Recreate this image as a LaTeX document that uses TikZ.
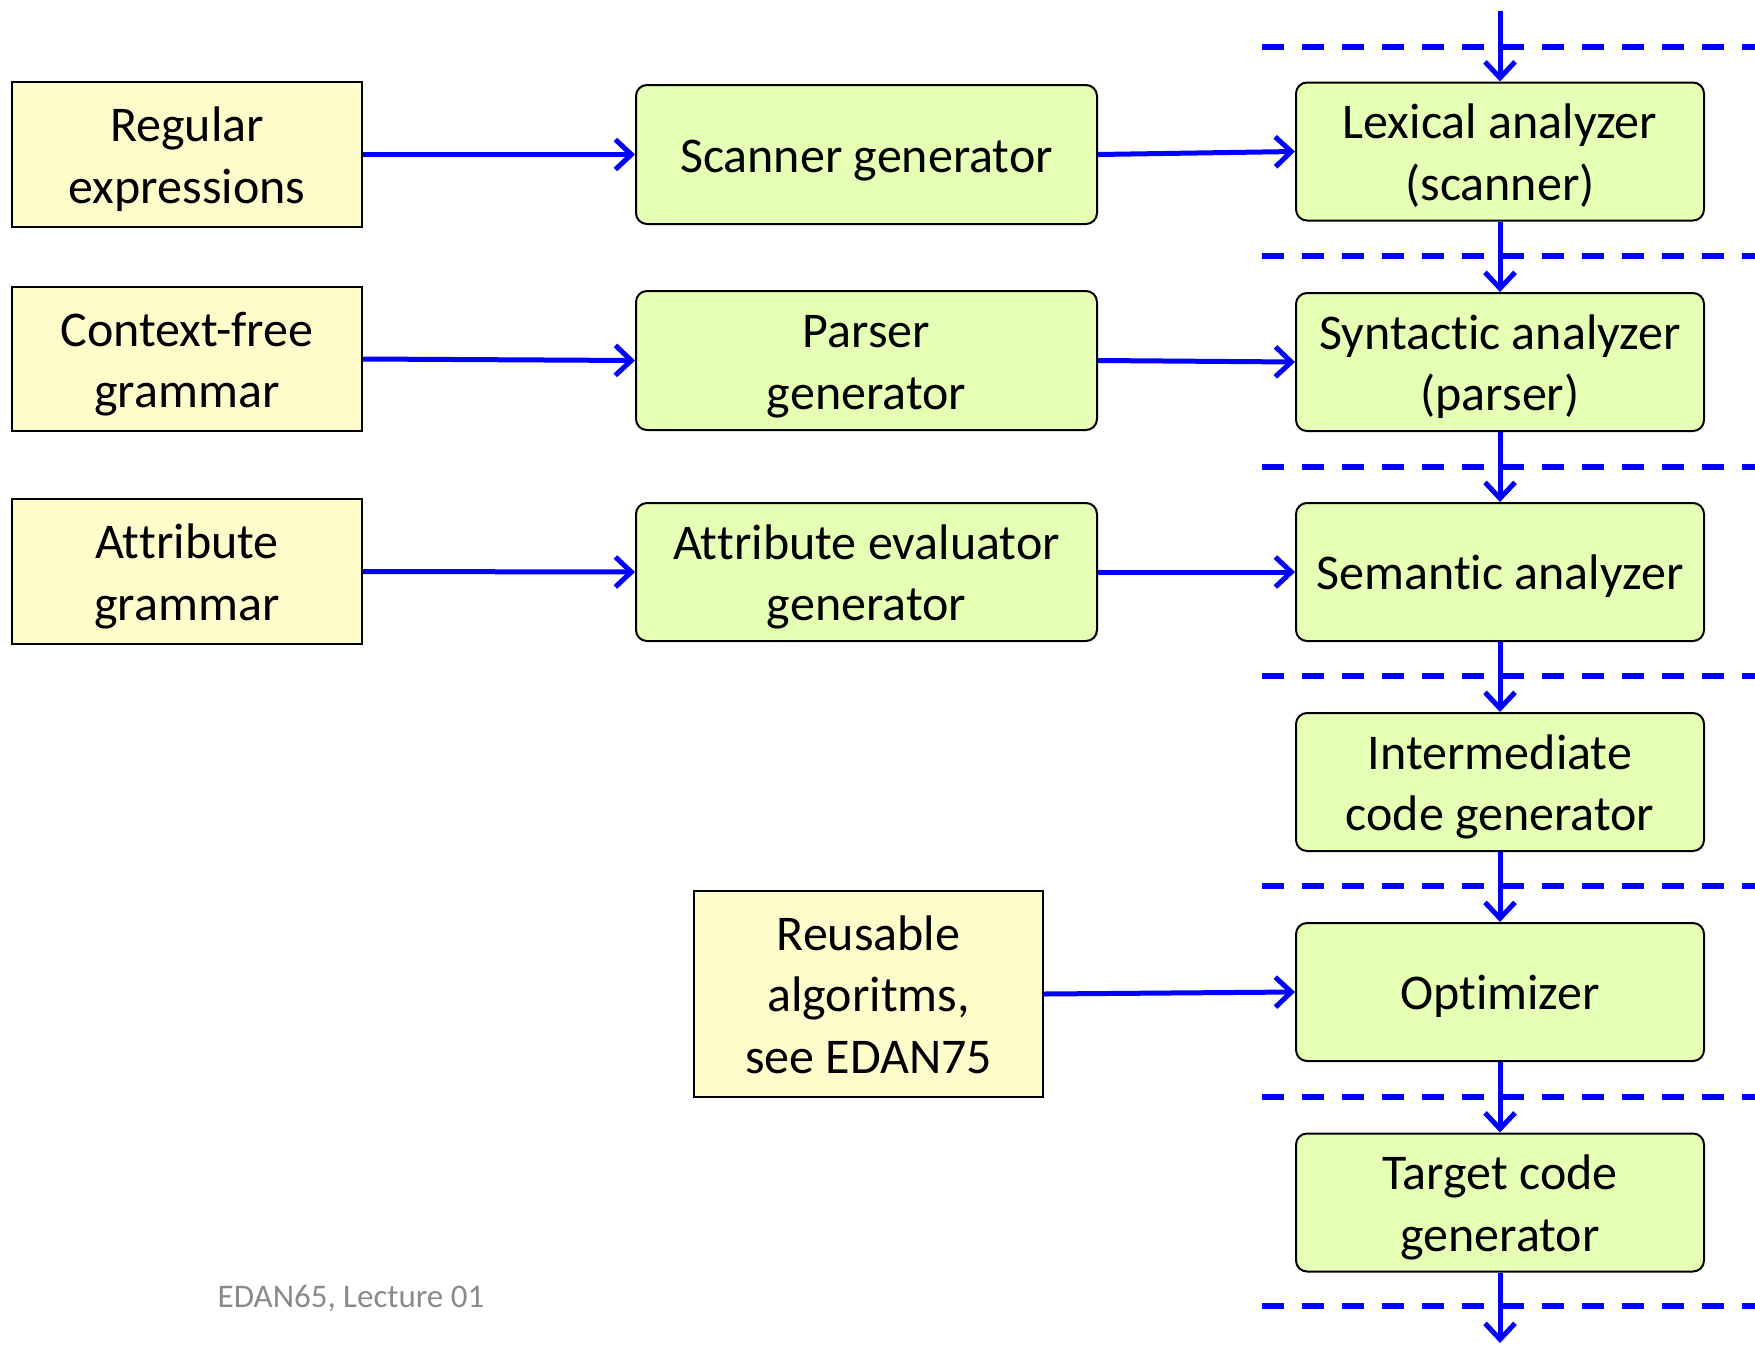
\documentclass[tikz,border=0pt]{standalone}
\usepackage{fontspec}
\setmainfont{Carlito}[Ligatures=NoCommon]
\usetikzlibrary{arrows.meta}
\definecolor{yfill}{HTML}{FFFCCB}
\definecolor{gfill}{HTML}{E5FFB4}
\definecolor{fgray}{HTML}{8A8A8A}
\newcommand\nolti{t\kern0pt i}
\newcommand\nolatt{At\kern0pt tribute}
\newcommand\boxtext[1]{\raisebox{0pt}[\dimexpr\height+11pt\relax][\depth]{\begin{tabular}{@{}c@{}}#1\end{tabular}}}
\tikzset{
  base/.style={draw=black, inner sep=0pt,
    font=\fontsize{50}{61.5}\selectfont, text=black},
  ybox/.style={base, fill=yfill, line width=2pt},
  gbox/.style={base, fill=gfill, line width=2pt, rounded corners=11pt},
  arr/.style={draw=blue, line width=5pt, -{Straight Barb[length=16pt,width=30pt,line width=5pt]}},
  sep/.style={draw=blue, line width=6pt, dash pattern=on 22pt off 18pt}
}
\begin{document}
\begin{tikzpicture}[x=1pt,y=-1pt]
\useasboundingbox (0,0) rectangle (1755,1346);
% dashed separators
\foreach \yy in {47,256,467,676,886,1097,1306}
  \draw[sep] (1262,\yy) -- (1755,\yy);
% left inputs
\node[ybox, minimum width=350pt, minimum height=145pt] (re) at (187,154.5) {\boxtext{Regular\\expressions}};
\node[ybox, minimum width=350pt, minimum height=144pt] (cfg) at (187,359) {\boxtext{Context-free\\grammar}};
\node[ybox, minimum width=350pt, minimum height=145pt] (ag) at (187,571.5) {\boxtext{\nolatt\\grammar}};
\node[ybox, minimum width=349pt, minimum height=206pt] (ra) at (868.5,994) {\boxtext{Reusable\\algoritms,\\see EDAN75}};
% generators
\node[gbox, minimum width=461pt, minimum height=139pt] (sg) at (866.5,154.5) {\boxtext{Scanner generator}};
\node[gbox, minimum width=461pt, minimum height=139pt] (pg) at (866.5,360.5) {\boxtext{Parser\\generator}};
\node[gbox, minimum width=461pt, minimum height=138pt] (aeg) at (866.5,572) {\boxtext{\nolatt{} evaluator\\generator}};
% compiler phases
\node[gbox, minimum width=408pt, minimum height=138pt] (lex) at (1500,151.5) {\boxtext{Lexical analyzer\\(scanner)}};
\node[gbox, minimum width=408pt, minimum height=138pt] (syn) at (1500,362) {\boxtext{Syntac\nolti c analyzer\\(parser)}};
\node[gbox, minimum width=408pt, minimum height=138pt] (sem) at (1500,572) {\boxtext{Seman\nolti c analyzer}};
\node[gbox, minimum width=408pt, minimum height=138pt] (icg) at (1500,782) {\boxtext{Intermediate\\code generator}};
\node[gbox, minimum width=408pt, minimum height=138pt] (opt) at (1500,992) {\boxtext{Op\nolti mizer}};
\node[gbox, minimum width=408pt, minimum height=138pt] (tcg) at (1500,1202.5) {\boxtext{Target code\\generator}};
\coordinate (top) at (1500,11);
\coordinate (bot) at (1500,1343);
% horizontal arrows
\draw[arr] (re.east) -- (sg.west);
\draw[arr] (cfg.east) -- (pg.west);
\draw[arr] (ag.east) -- (aeg.west);
\draw[arr] (sg.east) -- (lex.west);
\draw[arr] (pg.east) -- (syn.west);
\draw[arr] (aeg.east) -- (sem.west);
\draw[arr] (ra.east) -- (opt.west);
% vertical chain
\draw[arr] (top) -- (lex.north);
\draw[arr] (lex.south) -- (syn.north);
\draw[arr] (syn.south) -- (sem.north);
\draw[arr] (sem.south) -- (icg.north);
\draw[arr] (icg.south) -- (opt.north);
\draw[arr] (opt.south) -- (tcg.north);
\draw[arr] (tcg.south) -- (bot);
% footer
\node[font=\fontsize{33}{40}\selectfont, text=fgray, inner sep=0pt] (foot) at (351,1298) {EDAN65, Lecture 01};
\end{tikzpicture}
\end{document}
